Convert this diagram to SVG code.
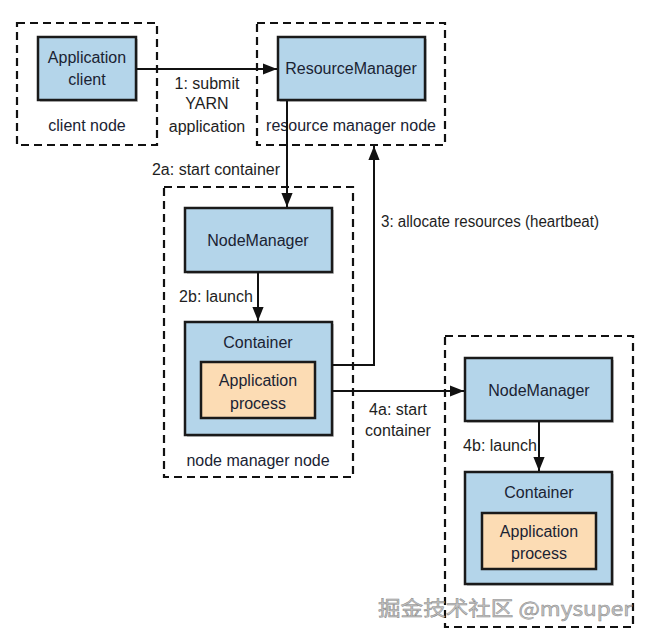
<svg xmlns="http://www.w3.org/2000/svg" width="648" height="641" viewBox="0 0 648 641">
<defs>
<style>
.dash{fill:none;stroke:#111;stroke-width:2.2;stroke-dasharray:8 5}
.blue{fill:#b4d5ea;stroke:#1a1a1a;stroke-width:2.5}
.orange{fill:#fcdcb4;stroke:#1a1a1a;stroke-width:2.5}
.sh{fill:#9a9a9a;opacity:0.5}
text{font-family:"Liberation Sans",Arial,sans-serif;font-size:16px;fill:#1a2333;text-anchor:middle}
.lbl{fill:#1e1e1e}
.edge{fill:none;stroke:#111;stroke-width:2}
.wm{font-family:"Noto Sans CJK SC","Liberation Sans",sans-serif;font-size:20px;fill:#c4c4c4;stroke:#8a8a8a;stroke-width:0.5;text-anchor:start}
</style>
<marker id="ah2" viewBox="0 0 10 10" refX="10" refY="5" markerWidth="14" markerHeight="14" markerUnits="userSpaceOnUse" orient="auto">
<path d="M0,1 L10,5 L0,9 z" fill="#111"/>
</marker>
</defs>
<rect width="648" height="641" fill="#fff"/>

<g id="client-node">
<rect class="dash" x="17" y="23" width="140" height="122"/>
<rect class="sh" x="40" y="39" width="98" height="63"/>
<rect class="blue" x="38" y="37" width="98" height="63"/>
<text x="87" y="63">Application</text>
<text x="87" y="85">client</text>
<text x="87" y="131">client node</text>
</g>

<g id="resource-manager-node">
<rect class="dash" x="257" y="23" width="188" height="122"/>
<rect class="sh" x="280" y="39" width="147" height="63"/>
<rect class="blue" x="278" y="37" width="147" height="63"/>
<text x="351" y="74">ResourceManager</text>
<text x="351" y="131">resource manager node</text>
</g>

<g id="node-manager-node">
<rect class="dash" x="164" y="187" width="189" height="290"/>
<rect class="sh" x="187" y="210" width="147" height="64"/>
<rect class="blue" x="185" y="208" width="147" height="64"/>
<text x="258" y="246">NodeManager</text>
<rect class="sh" x="187" y="324" width="147" height="113"/>
<rect class="blue" x="185" y="322" width="147" height="113"/>
<text x="258" y="348">Container</text>
<rect class="orange" x="201" y="362" width="114" height="56"/>
<text x="258" y="386">Application</text>
<text x="258" y="409">process</text>
<text x="258" y="466">node manager node</text>
</g>

<g id="node-manager-node-2">
<rect class="dash" x="445" y="336" width="188" height="291"/>
<rect class="sh" x="467" y="360" width="147" height="63"/>
<rect class="blue" x="465" y="358" width="147" height="63"/>
<text x="539" y="396">NodeManager</text>
<rect class="sh" x="467" y="474" width="147" height="112"/>
<rect class="blue" x="465" y="472" width="147" height="112"/>
<text x="539" y="498">Container</text>
<rect class="orange" x="482" y="513" width="114" height="56"/>
<text x="539" y="537">Application</text>
<text x="539" y="559">process</text>
</g>

<g id="connectors">
<path class="edge" d="M136,69 L277,69" marker-end="url(#ah2)"/>
<text class="lbl" x="207" y="89">1: submit</text>
<text class="lbl" x="207" y="109">YARN</text>
<text class="lbl" x="207" y="132">application</text>

<path class="edge" d="M287,101 L287,207" marker-end="url(#ah2)"/>
<text class="lbl" x="216" y="175">2a: start container</text>

<path class="edge" d="M258,272 L258,321" marker-end="url(#ah2)"/>
<text class="lbl" x="216" y="302">2b: launch</text>

<path class="edge" d="M332,365 L374,365 L374,146" marker-end="url(#ah2)"/>
<text class="lbl" x="381" y="227" style="text-anchor:start" textLength="218" lengthAdjust="spacingAndGlyphs">3: allocate resources (heartbeat)</text>

<path class="edge" d="M332,391 L464,391" marker-end="url(#ah2)"/>
<text class="lbl" x="398" y="415">4a: start</text>
<text class="lbl" x="398" y="436">container</text>

<path class="edge" d="M539,421 L539,471" marker-end="url(#ah2)"/>
<text class="lbl" x="500" y="451">4b: launch</text>
</g>

<text class="wm" x="378" y="616" textLength="254" lengthAdjust="spacingAndGlyphs">掘金技术社区 @mysuper</text>
</svg>
